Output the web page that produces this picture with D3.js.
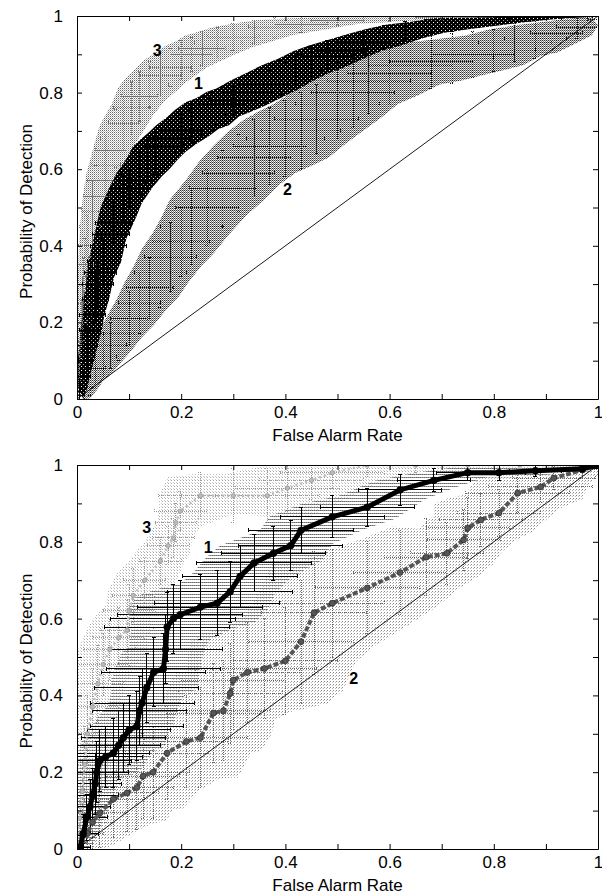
<!DOCTYPE html>
<html>
<head>
<meta charset="utf-8">
<script src="https://cdn.jsdelivr.net/npm/d3@7"></script>
<style>
  body { margin: 0; background: #fff; }
  svg { display: block; font-family: "Liberation Sans", Arial, sans-serif; }
</style>
</head>
<body>
<div id="chart"></div>
<script>
// ---- data: [falseAlarm, detection, xErr, yErr] ----
const xTicks = [0, 0.1, 0.2, 0.3, 0.4, 0.5, 0.6, 0.7, 0.8, 0.9, 1];
const labelTicks = [0, 0.2, 0.4, 0.6, 0.8, 1];
const labelText = ['0', '0.2', '0.4', '0.6', '0.8', '1'];
const chanceLine = [[0, 0], [1, 1]];

const topCurve1 = [
  [0.005,0.02,0.01,0.03],[0.01,0.06,0.015,0.04],[0.015,0.10,0.015,0.05],[0.02,0.14,0.02,0.05],
  [0.025,0.18,0.02,0.06],[0.03,0.22,0.025,0.06],[0.035,0.26,0.025,0.06],[0.04,0.30,0.03,0.06],
  [0.045,0.33,0.03,0.06],[0.05,0.36,0.03,0.06],[0.06,0.40,0.035,0.06],[0.065,0.43,0.035,0.06],
  [0.07,0.46,0.035,0.06],[0.08,0.49,0.035,0.06],[0.09,0.52,0.035,0.06],[0.10,0.55,0.035,0.055],
  [0.11,0.57,0.035,0.055],[0.12,0.59,0.035,0.055],[0.135,0.62,0.04,0.055],[0.15,0.64,0.04,0.055],
  [0.165,0.66,0.04,0.05],[0.18,0.68,0.04,0.05],[0.20,0.70,0.04,0.05],[0.22,0.72,0.045,0.05],
  [0.24,0.74,0.045,0.05],[0.26,0.75,0.045,0.05],[0.28,0.77,0.045,0.045],[0.30,0.78,0.045,0.045],
  [0.33,0.80,0.05,0.045],[0.36,0.82,0.05,0.045],[0.39,0.84,0.05,0.045],[0.42,0.86,0.05,0.04],
  [0.45,0.88,0.05,0.04],[0.48,0.895,0.05,0.04],[0.51,0.91,0.05,0.035],[0.55,0.93,0.05,0.03],
  [0.59,0.945,0.05,0.03],[0.63,0.96,0.05,0.025],[0.67,0.97,0.05,0.02],[0.72,0.98,0.05,0.02],
  [0.77,0.985,0.05,0.015],[0.82,0.99,0.05,0.01],[0.88,0.995,0.05,0.005],[0.94,1.0,0.05,0.005],
  [1.0,1.0,0.02,0.0]
];
const topCurve2 = [
  [0.005,0.01,0.01,0.02],[0.015,0.03,0.015,0.04],[0.025,0.06,0.02,0.05],[0.035,0.08,0.02,0.05],
  [0.05,0.11,0.025,0.06],[0.065,0.14,0.03,0.06],[0.08,0.17,0.03,0.07],[0.10,0.21,0.035,0.07],
  [0.12,0.25,0.04,0.08],[0.14,0.29,0.045,0.08],[0.16,0.33,0.05,0.09],[0.18,0.37,0.05,0.09],
  [0.20,0.41,0.055,0.09],[0.22,0.45,0.06,0.1],[0.25,0.50,0.06,0.1],[0.28,0.55,0.065,0.1],
  [0.31,0.59,0.07,0.1],[0.34,0.63,0.07,0.1],[0.37,0.66,0.07,0.1],[0.40,0.68,0.075,0.1],
  [0.43,0.70,0.075,0.1],[0.46,0.73,0.08,0.09],[0.50,0.77,0.08,0.09],[0.53,0.80,0.08,0.09],
  [0.56,0.83,0.08,0.085],[0.60,0.85,0.08,0.08],[0.64,0.87,0.08,0.07],[0.68,0.88,0.08,0.07],
  [0.72,0.89,0.08,0.065],[0.76,0.90,0.08,0.06],[0.80,0.91,0.08,0.055],[0.84,0.93,0.07,0.05],
  [0.88,0.94,0.06,0.05],[0.92,0.955,0.05,0.04],[0.96,0.97,0.04,0.03],[1.0,0.99,0.02,0.02]
];
const topCurve3 = [
  [0.002,0.05,0.005,0.04],[0.004,0.10,0.006,0.05],[0.006,0.15,0.008,0.06],[0.008,0.20,0.01,0.06],
  [0.010,0.25,0.012,0.07],[0.013,0.30,0.014,0.07],[0.016,0.35,0.016,0.07],[0.020,0.40,0.018,0.08],
  [0.025,0.45,0.02,0.08],[0.030,0.49,0.022,0.08],[0.037,0.53,0.025,0.08],[0.045,0.57,0.025,0.08],
  [0.055,0.61,0.028,0.08],[0.065,0.65,0.03,0.08],[0.075,0.68,0.03,0.075],[0.09,0.72,0.03,0.07],
  [0.105,0.76,0.035,0.07],[0.12,0.79,0.035,0.065],[0.14,0.82,0.035,0.06],[0.16,0.845,0.04,0.055],
  [0.18,0.865,0.04,0.05],[0.20,0.885,0.04,0.05],[0.22,0.90,0.04,0.045],[0.24,0.915,0.045,0.045],
  [0.27,0.93,0.045,0.04],[0.30,0.945,0.05,0.035],[0.34,0.958,0.05,0.03],[0.38,0.97,0.05,0.025],
  [0.43,0.978,0.05,0.02],[0.50,0.988,0.05,0.012],[0.60,0.993,0.05,0.007],[0.70,0.997,0.05,0.005],
  [0.80,1.0,0.05,0.003],[0.90,1.0,0.05,0.0],[1.0,1.0,0.02,0.0]
];

const bottomCurve1 = [
  [0.0,0.0,0.01,0.01],[0.006,0.005,0.02,0.03],[0.012,0.04,0.03,0.05],[0.019,0.083,0.04,0.06],
  [0.025,0.11,0.04,0.07],[0.03,0.14,0.05,0.07],[0.035,0.17,0.05,0.08],[0.038,0.20,0.06,0.08],
  [0.044,0.23,0.06,0.08],[0.055,0.24,0.07,0.08],[0.07,0.25,0.07,0.09],[0.08,0.27,0.08,0.09],
  [0.089,0.29,0.08,0.09],[0.10,0.31,0.08,0.09],[0.115,0.32,0.09,0.09],[0.12,0.36,0.09,0.09],
  [0.125,0.38,0.1,0.09],[0.134,0.42,0.1,0.09],[0.147,0.46,0.1,0.09],[0.166,0.47,0.11,0.09],
  [0.17,0.52,0.11,0.09],[0.173,0.578,0.12,0.09],[0.185,0.60,0.12,0.09],[0.198,0.61,0.12,0.09],
  [0.237,0.63,0.12,0.085],[0.269,0.64,0.12,0.085],[0.294,0.67,0.12,0.08],[0.313,0.71,0.11,0.08],
  [0.34,0.745,0.11,0.075],[0.377,0.77,0.1,0.07],[0.41,0.79,0.1,0.065],[0.43,0.83,0.1,0.06],
  [0.49,0.865,0.1,0.055],[0.557,0.89,0.09,0.05],[0.62,0.935,0.08,0.04],[0.685,0.96,0.07,0.03],
  [0.75,0.98,0.06,0.02],[0.81,0.98,0.05,0.02],[0.88,0.985,0.05,0.015],[0.97,0.99,0.03,0.01],
  [1.0,1.0,0.01,0.0]
];
const bottomCurve2 = [
  [0.0,0.0,0.01,0.01],[0.006,0.005,0.02,0.03],[0.02,0.04,0.03,0.06],[0.03,0.07,0.04,0.08],
  [0.044,0.094,0.05,0.09],[0.07,0.13,0.06,0.1],[0.096,0.146,0.06,0.1],[0.115,0.16,0.07,0.11],
  [0.127,0.19,0.07,0.11],[0.146,0.20,0.07,0.12],[0.173,0.25,0.08,0.12],[0.21,0.28,0.08,0.12],
  [0.237,0.29,0.09,0.13],[0.262,0.354,0.09,0.13],[0.281,0.36,0.09,0.13],[0.294,0.405,0.1,0.13],
  [0.30,0.44,0.1,0.13],[0.327,0.46,0.1,0.13],[0.36,0.47,0.1,0.13],[0.40,0.49,0.1,0.14],
  [0.43,0.54,0.1,0.16],[0.455,0.615,0.1,0.16],[0.49,0.64,0.1,0.14],[0.557,0.68,0.1,0.12],
  [0.62,0.72,0.09,0.11],[0.67,0.76,0.08,0.1],[0.71,0.77,0.07,0.08],[0.742,0.805,0.07,0.08],
  [0.75,0.836,0.08,0.08],[0.775,0.857,0.08,0.07],[0.81,0.875,0.08,0.06],[0.846,0.927,0.1,0.05],
  [0.89,0.943,0.1,0.04],[0.915,0.966,0.08,0.03],[0.97,0.987,0.05,0.02],[1.0,1.0,0.01,0.0]
];
const bottomCurve3 = [
  [0.0,0.0,0.01,0.02],[0.005,0.08,0.02,0.06],[0.01,0.15,0.03,0.08],[0.015,0.22,0.04,0.1],
  [0.02,0.30,0.05,0.1],[0.03,0.37,0.05,0.1],[0.04,0.43,0.05,0.1],[0.05,0.48,0.05,0.08],
  [0.063,0.52,0.05,0.08],[0.08,0.55,0.05,0.08],[0.096,0.57,0.05,0.08],[0.10,0.62,0.05,0.07],
  [0.108,0.66,0.04,0.07],[0.13,0.70,0.04,0.06],[0.16,0.75,0.04,0.06],[0.175,0.79,0.04,0.05],
  [0.185,0.81,0.04,0.05],[0.19,0.85,0.04,0.05],[0.198,0.88,0.05,0.05],[0.237,0.92,0.08,0.06],
  [0.30,0.92,0.1,0.07],[0.365,0.92,0.1,0.07],[0.404,0.94,0.1,0.06],[0.45,0.96,0.1,0.05],
  [0.49,0.98,0.1,0.04],[0.557,1.0,0.1,0.03],[0.65,1.0,0.1,0.02],[0.75,1.0,0.1,0.02],
  [0.85,1.0,0.1,0.01],[1.0,1.0,0.05,0.0]
];

// curve number labels, anchored in data units
const topLabels = [['3', 0.154, 0.911], ['1', 0.233, 0.825], ['2', 0.404, 0.546]];
const bottomLabels = [['3', 0.134, 0.838], ['1', 0.252, 0.786], ['2', 0.531, 0.445]];

// ---- drawing ----
const width = 602, height = 895;
const plotLeft = 77, plotRight = 598;

const svg = d3.select('#chart').append('svg')
  .attr('width', width)
  .attr('height', height);
const defs = svg.append('defs');

// pixel stipple patterns to mimic the printed texture
function addPattern(id, w, h, bg, cells) {
  const p = defs.append('pattern')
    .attr('id', id)
    .attr('patternUnits', 'userSpaceOnUse')
    .attr('width', w).attr('height', h);
  if (bg) p.append('rect').attr('width', w).attr('height', h).attr('fill', bg);
  cells.forEach(c => p.append('rect')
    .attr('x', c[0]).attr('y', c[1]).attr('width', 1).attr('height', 1).attr('fill', c[2]));
}
addPattern('dark', 4, 4, '#000', [[1, 2, '#fff'], [3, 0, '#999']]);
addPattern('mid', 2, 2, null, [[0, 0, '#333'], [1, 1, '#777'], [1, 0, '#ccc']]);
addPattern('light', 2, 2, null, [[0, 0, '#666'], [1, 1, '#bbb']]);
addPattern('hlines', 2, 3, null, [[0, 0, '#666'], [1, 0, '#999']]);
addPattern('sparseMid', 3, 3, null, [[0, 0, '#888'], [2, 1, '#bbb']]);
addPattern('sparseLight', 3, 3, null, [[0, 0, '#aaa'], [2, 2, '#ccc']]);

function tickFmt(d) {
  const i = labelTicks.findIndex(v => Math.abs(v - d) < 1e-9);
  return i < 0 ? '' : labelText[i];
}

function drawPanel(top, bottom, series, labels) {
  const x = d3.scaleLinear().domain([0, 1]).range([plotLeft, plotRight]);
  const y = d3.scaleLinear().domain([0, 1]).range([bottom, top]);
  const g = svg.append('g');

  const clipId = 'clip' + top;
  defs.append('clipPath').attr('id', clipId)
    .append('rect')
    .attr('x', plotLeft).attr('y', top)
    .attr('width', plotRight - plotLeft).attr('height', bottom - top);
  const plot = g.append('g').attr('clip-path', `url(#${clipId})`);

  // hull of the error crosses, filled with texture
  series.forEach(s => {
    const k = s.hull;
    const upper = s.data.map(d => [x(Math.max(0, d[0] - d[2] * k)), y(Math.min(1, d[1] + d[3] * k))]);
    const lower = s.data.map(d => [x(Math.min(1, d[0] + d[2] * k)), y(Math.max(0, d[1] - d[3] * k))]).reverse();
    plot.append('path')
      .attr('d', d3.line()(upper.concat(lower)) + 'Z')
      .attr('fill', `url(#${s.fill})`);
  });

  // error bars with small caps
  series.forEach(s => {
    plot.append('g')
      .attr('fill', 'none')
      .attr('stroke', s.stroke)
      .attr('stroke-width', s.sw)
      .attr('stroke-dasharray', s.dash)
      .attr('shape-rendering', 'crispEdges')
      .selectAll('path')
      .data(s.data)
      .join('path')
        .attr('d', d => {
          const cx = x(d[0]), cy = y(d[1]);
          const x0 = x(d[0] - d[2]), x1 = x(d[0] + d[2]);
          const y0 = y(d[1] - d[3]), y1 = y(d[1] + d[3]);
          const c = 2;
          return `M${x0},${cy}H${x1}M${cx},${y0}V${y1}` +
            `M${x0},${cy - c}V${cy + c}M${x1},${cy - c}V${cy + c}` +
            `M${cx - c},${y0}H${cx + c}M${cx - c},${y1}H${cx + c}`;
        });
  });

  // point chain and markers (bottom panel only)
  series.filter(s => s.r).forEach(s => {
    plot.append('path')
      .attr('d', d3.line().x(d => x(d[0])).y(d => y(d[1]))(s.data))
      .attr('fill', 'none')
      .attr('stroke', s.dot)
      .attr('stroke-width', s.chainW)
      .attr('stroke-dasharray', s.chainDash);
    plot.append('g')
      .selectAll('circle')
      .data(s.data)
      .join('circle')
        .attr('cx', d => x(d[0]))
        .attr('cy', d => y(d[1]))
        .attr('r', s.r)
        .attr('fill', s.dot)
        .attr('stroke', s.dotStroke)
        .attr('stroke-width', 0.6);
  });

  // chance diagonal
  plot.append('path')
    .attr('d', d3.line().x(d => x(d[0])).y(d => y(d[1]))(chanceLine))
    .attr('fill', 'none')
    .attr('stroke', '#000')
    .attr('stroke-width', 0.9);

  // axes: ticks inward on all four sides
  const axes = [
    [d3.axisBottom(x).tickFormat(tickFmt).tickPadding(7), `translate(0,${bottom})`],
    [d3.axisLeft(y).tickFormat(tickFmt).tickPadding(14), `translate(${plotLeft},0)`],
    [d3.axisTop(x).tickFormat(''), `translate(0,${top})`],
    [d3.axisRight(y).tickFormat(''), `translate(${plotRight},0)`]
  ];
  axes.forEach(([ax, tr]) => {
    const a = g.append('g')
      .attr('transform', tr)
      .call(ax.tickValues(xTicks).tickSizeInner(-5).tickSizeOuter(0));
    a.attr('font-family', null).attr('font-size', null);
    a.selectAll('text').attr('font-size', 17).attr('fill', '#000');
    a.selectAll('line, path').attr('stroke', '#000').attr('stroke-width', 1);
  });

  // curve number labels
  g.selectAll('.curve-label')
    .data(labels)
    .join('text')
      .attr('class', 'curve-label')
      .attr('x', d => x(d[1]))
      .attr('y', d => y(d[2]))
      .attr('dy', '0.35em')
      .attr('text-anchor', 'middle')
      .attr('font-size', 16)
      .attr('font-weight', 700)
      .text(d => d[0]);

  // axis titles
  g.append('text')
    .attr('x', (plotLeft + plotRight) / 2)
    .attr('y', bottom + 42)
    .attr('text-anchor', 'middle')
    .attr('font-size', 17)
    .text('False Alarm Rate');

  g.append('text')
    .attr('transform', `translate(26,${(top + bottom) / 2 + 4}) rotate(-90)`)
    .attr('dy', '0.35em')
    .attr('text-anchor', 'middle')
    .attr('font-size', 17)
    .text('Probability of Detection');
}

drawPanel(16, 399, [
  { data: topCurve3, hull: 0.75, fill: 'light', stroke: '#777', sw: 1, dash: '1,1' },
  { data: topCurve2, hull: 0.7, fill: 'mid', stroke: '#111', sw: 1, dash: '1,1' },
  { data: topCurve1, hull: 0.7, fill: 'dark', stroke: '#000', sw: 1, dash: null }
], topLabels);

drawPanel(465, 849, [
  { data: bottomCurve3, hull: 0.8, fill: 'sparseLight', stroke: '#999', sw: 1, dash: '1,1',
    r: 2.2, dot: '#bbb', dotStroke: '#888', chainW: 2.5, chainDash: '2,3' },
  { data: bottomCurve2, hull: 0.8, fill: 'sparseMid', stroke: '#666', sw: 1, dash: '1,1',
    r: 3, dot: '#555', dotStroke: '#222', chainW: 4, chainDash: '5,2' },
  { data: bottomCurve1, hull: 0.6, fill: 'hlines', stroke: '#000', sw: 1, dash: null,
    r: 3.4, dot: '#000', dotStroke: '#000', chainW: 5, chainDash: null }
], bottomLabels);
</script>
</body>
</html>
